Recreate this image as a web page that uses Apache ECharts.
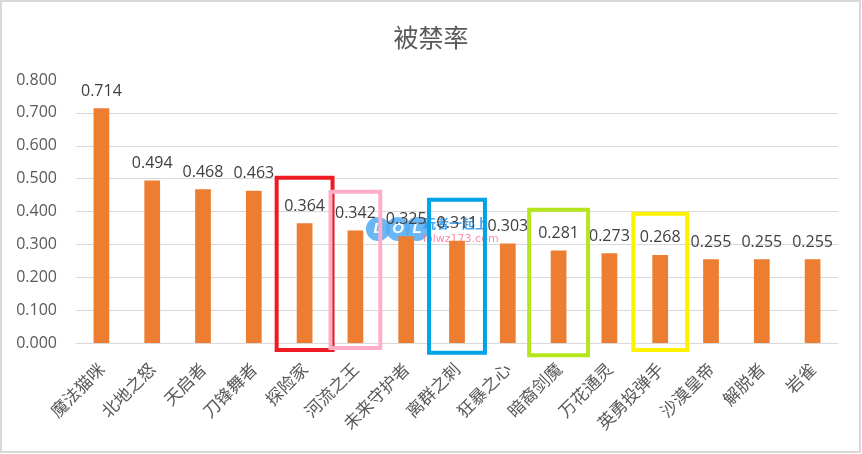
<!DOCTYPE html>
<html>
<head>
<meta charset="utf-8">
<script src="https://cdn.jsdelivr.net/npm/echarts@6/dist/echarts.min.js"></script>
<style>html,body{margin:0;padding:0;background:#fff;}#c{width:862px;height:454px;}</style>
</head>
<body>
<div id="c"></div>
<script>
const categories = ['魔法猫咪','北地之怒','天启者','刀锋舞者','探险家','河流之王','未来守护者','离群之刺','狂暴之心','暗裔剑魔','万花通灵','英勇投弹手','沙漠皇帝','解脱者','岩雀'];
const banRate = [0.714,0.494,0.468,0.463,0.364,0.342,0.325,0.311,0.303,0.281,0.273,0.268,0.255,0.255,0.255];
const yTicks = [0,0.1,0.2,0.3,0.4,0.5,0.6,0.7];
// highlight boxes: [category, lower value, upper value]
const boxes = [
  ['探险家', -0.021, 0.503],
  ['河流之王', -0.015, 0.460],
  ['离群之刺', -0.030, 0.436],
  ['暗裔剑魔', -0.037, 0.405],
  ['英勇投弹手', -0.021, 0.393]
];
const boxColors = ['#ED1C24','#FFAEC9','#00A2E8','#B5E61D','#FFF200'];
const boxWidthFactor = [1.1, 0.98, 1.1, 1.16, 1.06];

const font = "'Open Sans','Noto Sans CJK SC',sans-serif";
const chart = echarts.init(document.getElementById('c'), null, {renderer:'canvas'});
chart.setOption({
  animation: false,
  backgroundColor: '#fff',
  title: {
    text: '被禁率', left: 'center', top: 20,
    textStyle: {fontFamily: "'Noto Sans CJK SC',sans-serif", fontSize: 25, fontWeight: 'normal', color: '#595959'}
  },
  grid: {left: 76, right: 24, top: 80, bottom: 111},
  xAxis: {
    type: 'category', data: categories,
    axisLine: {show: true, lineStyle: {color: '#d9d9d9', width: 1}},
    axisTick: {show: false},
    axisLabel: {rotate: 45, interval: 0, fontSize: 17, color: '#595959', fontFamily: "'Noto Sans CJK SC',sans-serif", margin: 23}
  },
  yAxis: {
    type: 'value', min: 0, max: 0.8, interval: 0.1,
    axisLine: {show: false}, axisTick: {show: false},
    splitLine: {show: false},
    axisLabel: {fontSize: 16, color: '#595959', fontFamily: font, margin: 19, formatter: v => v.toFixed(3)}
  },
  series: [
    {
      type: 'bar', data: banRate, barWidth: '31%',
      itemStyle: {color: '#ED7D31'},
      label: {show: true, position: 'top', distance: 9, fontSize: 16, color: '#404040', fontFamily: font, formatter: p => p.value.toFixed(3)},
      markLine: {
        silent: true, symbol: ['none','none'], label: {show: false},
        lineStyle: {color: '#d9d9d9', type: 'solid', width: 1},
        data: yTicks.map(v => ({yAxis: v})),
        z: 1
      },
      z: 2
    },
    {
      type: 'custom', clip: false, z: 5,
      encode: {x: 0, y: [1, 2]},
      data: boxes,
      renderItem: function (params, api) {
        const idx = api.value(0);
        const lo = api.coord([idx, api.value(1)]);
        const hi = api.coord([idx, api.value(2)]);
        const w = api.size([1, 0])[0] * boxWidthFactor[params.dataIndex];
        return {
          type: 'rect',
          shape: {x: lo[0] - w / 2, y: hi[1], width: w, height: lo[1] - hi[1]},
          style: {fill: 'none', stroke: boxColors[params.dataIndex], lineWidth: 4}
        };
      }
    }
  ],
  graphic: [
    {type: 'rect', shape: {x: 1, y: 1, width: 859, height: 451}, style: {fill: 'none', stroke: '#d9d9d9', lineWidth: 2}, z: 100},
    {type: 'group', z: 100, children: [
      {type: 'circle', shape: {cx: 378, cy: 229, r: 12}, style: {fill: 'rgba(80,170,245,0.85)'}},
      {type: 'circle', shape: {cx: 398, cy: 229, r: 12}, style: {fill: 'rgba(80,170,245,0.85)'}},
      {type: 'circle', shape: {cx: 417, cy: 229, r: 12}, style: {fill: 'rgba(80,170,245,0.85)'}},
      {type: 'text', style: {x: 378, y: 229, text: 'L', fill: '#fff', font: 'bold italic 15px sans-serif', align: 'center', verticalAlign: 'middle'}},
      {type: 'text', style: {x: 398, y: 229, text: 'O', fill: '#fff', font: 'bold italic 15px sans-serif', align: 'center', verticalAlign: 'middle'}},
      {type: 'text', style: {x: 417, y: 229, text: 'L', fill: '#fff', font: 'bold italic 15px sans-serif', align: 'center', verticalAlign: 'middle'}},
      {type: 'text', style: {x: 423, y: 223, text: '玩者一起上', fill: 'rgba(40,150,240,0.85)', font: 'bold 13px "Noto Sans CJK SC"', verticalAlign: 'middle'}},
      {type: 'text', style: {x: 423, y: 239, text: 'lolwz173.com', fill: 'rgba(250,120,150,0.85)', font: '11px "DejaVu Sans"', verticalAlign: 'middle'}}
    ]}
  ]
});
</script>
</body>
</html>
